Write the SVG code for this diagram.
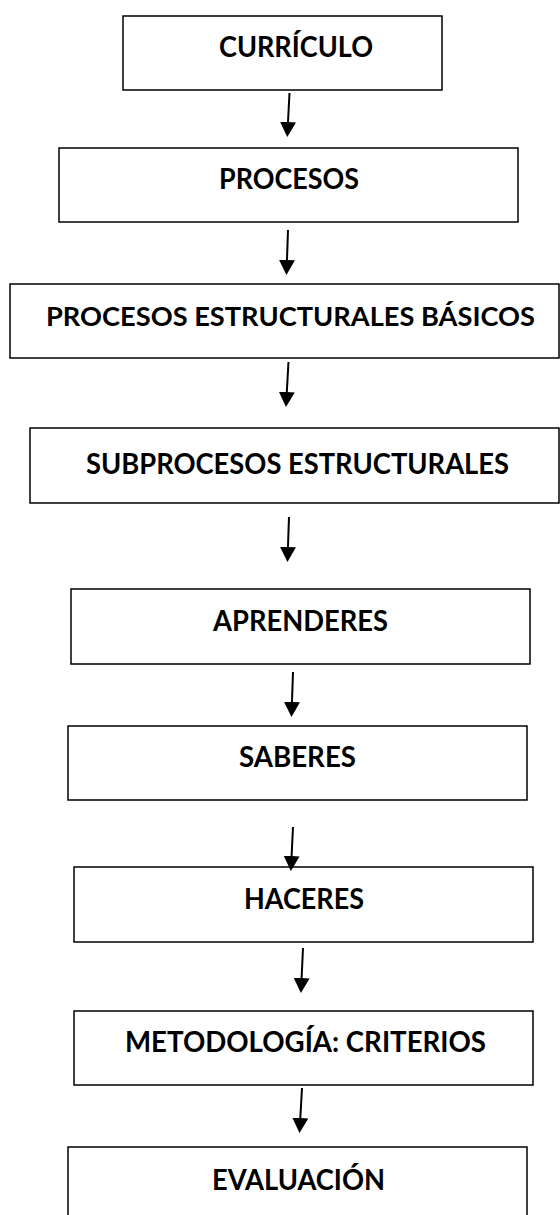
<svg xmlns="http://www.w3.org/2000/svg" width="560" height="1215" viewBox="0 0 560 1215">
<style>
.box{fill:#fff;stroke:#000;stroke-width:1.5}
.lbl{font-family:"Lato","Open Sans","Liberation Sans",sans-serif;font-weight:700;font-size:29px;fill:#000}
.arr{stroke:#000;stroke-width:2;fill:none;marker-end:url(#ah)}
</style>
<defs>
<marker id="ah" viewBox="0 0 15 16" refX="2" refY="8" markerWidth="15" markerHeight="16" markerUnits="userSpaceOnUse" orient="auto">
<path d="M0,0 L15,8 L0,16 Z" fill="#000"/>
</marker>
</defs>
<rect width="560" height="1215" fill="#fff"/>
<g id="n1"><rect class="box" x="123" y="16" width="319" height="74"/><text class="lbl" x="219" y="57" textLength="154" lengthAdjust="spacingAndGlyphs">CURRÍCULO</text></g>
<g id="n2"><rect class="box" x="59" y="148" width="459" height="74"/><text class="lbl" x="219" y="189" textLength="140" lengthAdjust="spacingAndGlyphs">PROCESOS</text></g>
<g id="n3"><rect class="box" x="10" y="284" width="549" height="74"/><text class="lbl" x="290.5" y="326" text-anchor="middle" font-size="27" style="font-size:27px" textLength="489" lengthAdjust="spacingAndGlyphs">PROCESOS ESTRUCTURALES BÁSICOS</text></g>
<g id="n4"><rect class="box" x="30" y="428" width="529" height="75"/><text class="lbl" x="86" y="474" textLength="423" lengthAdjust="spacingAndGlyphs">SUBPROCESOS ESTRUCTURALES</text></g>
<g id="n5"><rect class="box" x="71" y="589" width="459" height="75"/><text class="lbl" x="213" y="631" textLength="175" lengthAdjust="spacingAndGlyphs">APRENDERES</text></g>
<g id="n6"><rect class="box" x="68" y="726" width="459" height="74"/><text class="lbl" x="239" y="767" textLength="117" lengthAdjust="spacingAndGlyphs">SABERES</text></g>
<g id="n7"><rect class="box" x="74" y="867" width="459" height="75"/><text class="lbl" x="244" y="909" textLength="120" lengthAdjust="spacingAndGlyphs">HACERES</text></g>
<g id="n8"><rect class="box" x="74" y="1011" width="459" height="74"/><text class="lbl" x="125" y="1052" textLength="361" lengthAdjust="spacingAndGlyphs">METODOLOGÍA: CRITERIOS</text></g>
<g id="n9"><rect class="box" x="68" y="1147" width="459" height="90"/><text class="lbl" x="212" y="1190" textLength="173" lengthAdjust="spacingAndGlyphs">EVALUACIÓN</text></g>
<g id="connectors">
<line class="arr" x1="289.5" y1="93" x2="287.9" y2="124"/>
<line class="arr" x1="288" y1="230" x2="286.9" y2="262"/>
<line class="arr" x1="288.5" y1="362" x2="286.7" y2="394"/>
<line class="arr" x1="289" y1="517" x2="287.9" y2="549"/>
<line class="arr" x1="293" y1="672" x2="291.9" y2="704"/>
<line class="arr" x1="293" y1="827" x2="291.5" y2="858"/>
<line class="arr" x1="303" y1="948" x2="301.5" y2="980"/>
<line class="arr" x1="302" y1="1088" x2="300.2" y2="1120"/>
</g>
</svg>
